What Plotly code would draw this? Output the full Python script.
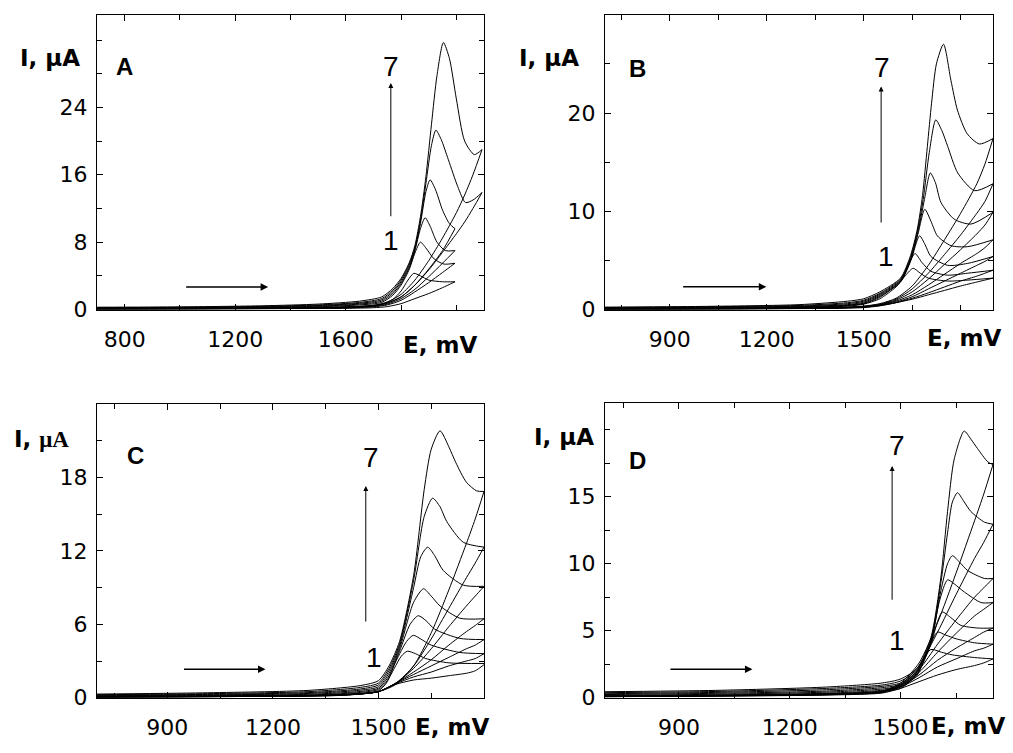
import plotly.graph_objects as go

# ---------------- Panel A (E, mV vs I, uA) ----------------
A_FWD_E = [
    [700, 1000, 1300, 1500, 1650, 1730, 1770, 1800, 1830, 1850, 1870, 1890, 1910, 1930, 1953, 1975, 2000, 2030, 2065, 2093],
    [700, 1000, 1300, 1500, 1650, 1730, 1770, 1800, 1830, 1850, 1870, 1890, 1910, 1926, 1945, 1971, 2005, 2033, 2060, 2093],
    [700, 1000, 1300, 1500, 1650, 1730, 1770, 1800, 1830, 1850, 1870, 1890, 1905, 1925, 1950, 1975, 1995],
    [700, 1000, 1300, 1500, 1650, 1730, 1770, 1800, 1830, 1850, 1870, 1887, 1905, 1930, 1960, 1995],
    [700, 1000, 1300, 1500, 1650, 1730, 1770, 1800, 1830, 1850, 1870, 1890, 1920, 1955, 1995],
    [700, 1000, 1300, 1500, 1650, 1730, 1770, 1800, 1825, 1846, 1870, 1900, 1950, 1995],
]
A_FWD_I = [
    [0.28, 0.32, 0.45, 0.65, 1.0, 1.5, 2.5, 3.7, 5.6, 7.6, 11.0, 15.8, 22.0, 27.8, 31.7, 29.8, 25.0, 20.0, 18.4, 19.0],
    [0.22, 0.27, 0.38, 0.55, 0.85, 1.3, 2.3, 3.5, 5.4, 7.3, 10.5, 15.0, 19.5, 21.3, 20.2, 17.8, 14.6, 12.7, 13.0, 13.9],
    [0.18, 0.22, 0.32, 0.48, 0.75, 1.15, 2.1, 3.3, 5.2, 7.1, 10.2, 14.0, 15.4, 14.2, 11.8, 10.2, 9.6],
    [0.14, 0.18, 0.27, 0.40, 0.65, 1.0, 1.9, 3.1, 5.0, 7.0, 9.6, 10.9, 9.9, 8.0, 7.0, 7.0],
    [0.10, 0.14, 0.22, 0.33, 0.55, 0.85, 1.7, 2.9, 4.8, 6.7, 8.0, 7.3, 6.0, 5.4, 5.5],
    [0.06, 0.10, 0.16, 0.25, 0.40, 0.65, 1.2, 2.2, 3.5, 4.3, 4.0, 3.5, 3.3, 3.3],
]
A_REV_E = [
    [2093, 2060, 2030, 2000, 1950, 1900, 1850, 1800, 1750, 1700, 1600, 1300, 1000, 700],
    [2093, 2060, 2030, 2000, 1950, 1900, 1850, 1800, 1750, 1700, 1600, 1300, 1000, 700],
    [1995, 1950, 1900, 1850, 1800, 1750, 1700, 1600, 1300, 1000, 700],
    [1995, 1950, 1900, 1850, 1800, 1750, 1700, 1600, 1300, 1000, 700],
    [1995, 1950, 1900, 1850, 1800, 1750, 1700, 1600, 1300, 1000, 700],
    [1995, 1950, 1900, 1850, 1800, 1750, 1700, 1600, 1300, 1000, 700],
]
A_REV_I = [
    [19.0, 16.0, 13.6, 11.5, 8.5, 5.8, 3.5, 1.8, 0.9, 0.5, 0.3, 0.15, 0.10, 0.08],
    [13.9, 12.0, 10.4, 9.0, 6.8, 4.7, 2.9, 1.5, 0.8, 0.45, 0.28, 0.14, 0.10, 0.08],
    [9.6, 7.0, 4.8, 2.9, 1.5, 0.75, 0.42, 0.25, 0.13, 0.09, 0.07],
    [7.0, 5.5, 3.9, 2.4, 1.3, 0.65, 0.38, 0.22, 0.12, 0.08, 0.06],
    [5.5, 4.4, 3.2, 2.1, 1.1, 0.55, 0.33, 0.20, 0.11, 0.07, 0.05],
    [3.3, 2.6, 1.9, 1.3, 0.7, 0.35, 0.22, 0.15, 0.09, 0.06, 0.05],
]

# ---------------- Panel B ----------------
B_FWD_E = [
    [700, 1000, 1300, 1450, 1500, 1550, 1614, 1645, 1666, 1682, 1697, 1710, 1725, 1747, 1770, 1790, 1820, 1858, 1900],
    [700, 1000, 1300, 1450, 1500, 1550, 1614, 1645, 1666, 1684, 1703, 1723, 1742, 1760, 1791, 1843, 1900],
    [700, 1000, 1300, 1450, 1500, 1550, 1614, 1645, 1666, 1688, 1706, 1722, 1739, 1780, 1832, 1900],
    [700, 1000, 1300, 1450, 1500, 1550, 1614, 1645, 1668, 1689, 1708, 1728, 1770, 1822, 1900],
    [700, 1000, 1300, 1450, 1500, 1550, 1614, 1645, 1673, 1690, 1708, 1760, 1822, 1900],
    [700, 1000, 1300, 1450, 1500, 1550, 1614, 1640, 1659, 1680, 1708, 1760, 1822, 1900],
    [700, 1000, 1300, 1450, 1500, 1550, 1600, 1630, 1653, 1675, 1700, 1760, 1822, 1900],
]
B_FWD_I = [
    [0.25, 0.32, 0.50, 0.85, 1.10, 1.80, 3.2, 5.5, 8.2, 11.6, 16.6, 21.0, 25.0, 27.0, 23.3, 20.3, 17.9, 16.85, 17.4],
    [0.20, 0.28, 0.42, 0.70, 0.95, 1.65, 3.1, 5.3, 7.9, 11.2, 16.0, 19.3, 18.2, 16.6, 13.9, 12.1, 12.8],
    [0.15, 0.22, 0.35, 0.60, 0.85, 1.55, 3.0, 5.1, 7.6, 11.2, 13.9, 12.9, 10.9, 9.2, 8.7, 9.9],
    [0.12, 0.18, 0.30, 0.50, 0.75, 1.45, 2.9, 5.0, 7.7, 10.2, 9.0, 7.5, 6.5, 6.4, 7.1],
    [0.10, 0.15, 0.25, 0.45, 0.65, 1.35, 2.8, 4.9, 7.5, 6.6, 5.4, 4.5, 4.7, 5.4],
    [0.08, 0.12, 0.20, 0.40, 0.60, 1.25, 2.9, 4.7, 5.7, 4.8, 3.9, 3.5, 3.7, 4.0],
    [0.06, 0.10, 0.18, 0.35, 0.55, 1.10, 2.3, 3.5, 4.2, 3.7, 3.2, 2.9, 3.0, 3.2],
]
B_REV_E = [1900, 1875, 1850, 1800, 1750, 1700, 1650, 1600, 1550, 1500, 1400, 1100, 700]
B_REV_I = [
    [17.4, 14.8, 12.8, 9.8, 7.1, 4.5, 2.4, 1.15, 0.60, 0.35, 0.20, 0.10, 0.06],
    [12.8, 11.0, 9.8, 7.6, 5.6, 3.7, 2.1, 1.05, 0.55, 0.32, 0.18, 0.09, 0.05],
    [9.9, 8.6, 7.7, 6.1, 4.6, 3.1, 1.8, 0.95, 0.50, 0.30, 0.17, 0.08, 0.05],
    [7.1, 6.3, 5.7, 4.7, 3.6, 2.5, 1.5, 0.85, 0.47, 0.28, 0.16, 0.08, 0.05],
    [5.4, 4.9, 4.5, 3.7, 2.9, 2.1, 1.3, 0.75, 0.43, 0.26, 0.15, 0.07, 0.04],
    [4.0, 3.7, 3.4, 2.9, 2.3, 1.7, 1.15, 0.70, 0.40, 0.24, 0.14, 0.07, 0.04],
    [3.2, 3.0, 2.8, 2.4, 1.95, 1.5, 1.05, 0.70, 0.38, 0.20, 0.12, 0.06, 0.04],
]

# ---------------- Panel C ----------------
C_FWD_E = [
    [700, 1000, 1300, 1450, 1500, 1530, 1560, 1600, 1630, 1650, 1675, 1700, 1720, 1750, 1779, 1800],
    [700, 1000, 1300, 1450, 1500, 1530, 1560, 1600, 1630, 1654, 1675, 1694, 1741, 1800],
    [700, 1000, 1300, 1450, 1500, 1530, 1560, 1600, 1620, 1640, 1660, 1684, 1741, 1800],
    [700, 1000, 1300, 1450, 1500, 1530, 1560, 1600, 1628, 1650, 1675, 1731, 1800],
    [700, 1000, 1300, 1450, 1500, 1530, 1560, 1590, 1613, 1635, 1660, 1731, 1800],
    [700, 1000, 1300, 1450, 1500, 1525, 1550, 1580, 1599, 1620, 1650, 1731, 1800],
    [700, 1000, 1300, 1450, 1500, 1520, 1545, 1565, 1582, 1605, 1635, 1700, 1800],
]
C_FWD_I = [
    [0.30, 0.40, 0.60, 1.00, 1.40, 2.6, 4.6, 10.0, 17.0, 20.3, 21.8, 20.5, 19.2, 17.6, 16.9, 16.85],
    [0.25, 0.33, 0.50, 0.85, 1.20, 2.4, 4.4, 9.6, 14.8, 16.3, 15.6, 14.4, 12.7, 12.3],
    [0.20, 0.27, 0.42, 0.72, 1.05, 2.2, 4.2, 9.0, 11.5, 12.3, 11.6, 10.4, 9.2, 9.1],
    [0.16, 0.22, 0.35, 0.62, 0.90, 2.0, 4.0, 7.8, 8.9, 8.3, 7.5, 6.5, 6.45],
    [0.12, 0.18, 0.28, 0.52, 0.78, 1.8, 3.8, 6.0, 6.7, 6.3, 5.6, 4.85, 4.75],
    [0.09, 0.14, 0.22, 0.44, 0.68, 1.4, 3.0, 4.6, 5.1, 4.8, 4.3, 3.7, 3.6],
    [0.06, 0.10, 0.17, 0.36, 0.58, 1.1, 2.4, 3.4, 3.8, 3.6, 3.2, 2.85, 2.8],
]
C_REV_E = [1800, 1775, 1750, 1700, 1650, 1600, 1550, 1500, 1400, 1100, 700]
C_REV_I = [
    [16.85, 14.6, 12.6, 8.8, 5.3, 2.6, 1.1, 0.5, 0.25, 0.12, 0.08],
    [12.3, 11.0, 9.8, 7.3, 4.8, 2.6, 1.2, 0.5, 0.25, 0.12, 0.08],
    [9.1, 8.3, 7.5, 5.8, 4.0, 2.4, 1.2, 0.5, 0.24, 0.11, 0.07],
    [6.45, 5.9, 5.4, 4.3, 3.1, 2.1, 1.2, 0.5, 0.23, 0.11, 0.07],
    [4.75, 4.3, 4.0, 3.3, 2.6, 1.9, 1.2, 0.5, 0.22, 0.10, 0.06],
    [3.6, 3.2, 3.0, 2.6, 2.1, 1.7, 1.15, 0.5, 0.21, 0.10, 0.06],
    [2.7, 2.2, 2.0, 1.8, 1.6, 1.45, 1.1, 0.5, 0.20, 0.10, 0.06],
]

# ---------------- Panel D ----------------
D_FWD_E = [
    [700, 1000, 1300, 1450, 1500, 1545, 1582, 1609, 1627, 1645, 1672, 1690, 1708, 1736, 1750],
    [700, 1000, 1300, 1450, 1500, 1545, 1582, 1609, 1627, 1640, 1654, 1670, 1690, 1727, 1750],
    [700, 1000, 1300, 1450, 1500, 1545, 1582, 1609, 1627, 1640, 1660, 1681, 1727, 1750],
    [700, 1000, 1300, 1450, 1500, 1545, 1582, 1605, 1627, 1645, 1672, 1718, 1750],
    [700, 1000, 1300, 1450, 1500, 1545, 1582, 1600, 1613, 1635, 1663, 1710, 1750],
    [700, 1000, 1300, 1450, 1500, 1545, 1575, 1600, 1620, 1650, 1700, 1750],
    [700, 1000, 1300, 1450, 1500, 1535, 1560, 1582, 1610, 1640, 1700, 1750],
]
D_FWD_I = [
    [0.45, 0.55, 0.80, 1.10, 1.40, 2.2, 4.5, 9.0, 13.9, 17.8, 19.9, 19.3, 18.6, 17.6, 17.4],
    [0.38, 0.47, 0.70, 0.95, 1.25, 2.1, 4.3, 8.6, 12.3, 14.6, 15.3, 14.7, 13.9, 13.1, 12.95],
    [0.30, 0.40, 0.60, 0.85, 1.10, 2.0, 4.2, 8.0, 10.0, 10.6, 10.1, 9.5, 8.9, 8.9],
    [0.24, 0.33, 0.50, 0.75, 1.00, 1.9, 4.1, 7.2, 8.8, 8.5, 7.9, 7.1, 7.1],
    [0.18, 0.26, 0.42, 0.65, 0.90, 1.8, 4.0, 5.7, 6.4, 6.0, 5.4, 5.2, 5.2],
    [0.12, 0.20, 0.34, 0.56, 0.80, 1.7, 3.7, 4.9, 4.7, 4.4, 4.1, 4.0],
    [0.08, 0.15, 0.27, 0.48, 0.70, 1.5, 2.8, 3.6, 3.4, 3.2, 3.0, 2.9],
]
D_REV_E = [1750, 1725, 1700, 1650, 1600, 1550, 1500, 1450, 1300, 1000, 700]
D_REV_I = [
    [17.4, 15.2, 13.2, 9.3, 5.6, 2.6, 1.1, 0.50, 0.30, 0.18, 0.12],
    [12.95, 11.6, 10.4, 7.7, 4.9, 2.4, 1.0, 0.50, 0.28, 0.17, 0.11],
    [8.9, 8.2, 7.5, 5.8, 4.0, 2.1, 0.95, 0.45, 0.26, 0.16, 0.10],
    [7.1, 6.6, 6.1, 4.8, 3.4, 1.9, 0.90, 0.45, 0.25, 0.15, 0.10],
    [5.2, 4.9, 4.5, 3.7, 2.8, 1.7, 0.85, 0.40, 0.23, 0.14, 0.09],
    [4.0, 3.7, 3.5, 2.9, 2.3, 1.5, 0.80, 0.40, 0.22, 0.13, 0.08],
    [2.9, 2.6, 2.4, 2.1, 1.7, 1.2, 0.70, 0.35, 0.20, 0.12, 0.08],
]

# axis ranges / ticks
X_RANGES = [[700, 2100], [700, 1900], [700, 1800], [700, 1750]]
Y_RANGES = [[0, 35], [0, 30], [0, 24], [0, 22]]
X_TICKS = [[800, 1200, 1600], [900, 1200, 1500], [900, 1200, 1500], [900, 1200, 1500]]
Y_TICKS = [[0, 8, 16, 24], [0, 10, 20], [0, 6, 12, 18], [0, 5, 10, 15]]
X_MINOR = [(800, 200), (750, 150), (750, 150), (750, 150)]
Y_MINOR = [(0, 4), (0, 5), (0, 3), (0, 2.5)]
PANEL_LETTERS = ["A", "B", "C", "D"]

fig = go.Figure()

panels = [
    (A_FWD_E, A_FWD_I, A_REV_E, A_REV_I),
    (B_FWD_E, B_FWD_I, [B_REV_E] * len(B_REV_I), B_REV_I),
    (C_FWD_E, C_FWD_I, [C_REV_E] * len(C_REV_I), C_REV_I),
    (D_FWD_E, D_FWD_I, [D_REV_E] * len(D_REV_I), D_REV_I),
]
line = dict(color="black", width=1, shape="spline", smoothing=0.7)
for p, (fe, fi, re_, ri) in enumerate(panels):
    xa = "x" if p == 0 else f"x{p+1}"
    ya = "y" if p == 0 else f"y{p+1}"
    for e, i in zip(fe, fi):
        fig.add_trace(go.Scatter(x=e, y=i, mode="lines", line=line, xaxis=xa, yaxis=ya,
                                 showlegend=False, hoverinfo="skip"))
    for e, i in zip(re_, ri):
        fig.add_trace(go.Scatter(x=e, y=i, mode="lines", line=line, xaxis=xa, yaxis=ya,
                                 showlegend=False, hoverinfo="skip"))

W, H = 1013, 753
# pixel boxes of the plot areas (left, top, right, bottom)
boxes = [(97, 15, 484, 315), (605, 15, 993, 315), (97, 411, 484, 710), (605, 410, 993, 710)]
TICKFONT = "DejaVu Sans, Liberation Sans, sans-serif"
BOLDFONT = "DejaVu Sans, Liberation Sans, sans-serif"
NUMFONT = "Liberation Sans, Arial, sans-serif"
layout = dict(width=W, height=H, margin=dict(l=0, r=0, t=0, b=0),
              paper_bgcolor="white", plot_bgcolor="white", showlegend=False)
for p, (l, t, r, b) in enumerate(boxes):
    xk = "xaxis" if p == 0 else f"xaxis{p+1}"
    yk = "yaxis" if p == 0 else f"yaxis{p+1}"
    xa = "x" if p == 0 else f"x{p+1}"
    ya = "y" if p == 0 else f"y{p+1}"
    common = dict(showgrid=False, zeroline=False, showline=True, linecolor="black", linewidth=1,
                  mirror="allticks", ticks="inside", ticklen=6, tickcolor="black", tickwidth=1,
                  tickfont=dict(family=TICKFONT, size=22, color="black"))
    layout[xk] = dict(domain=[l / W, r / W], anchor=ya, range=X_RANGES[p],
                      tickvals=X_TICKS[p], ticktext=[str(v) for v in X_TICKS[p]],
                      ticklabelstandoff=10,
                      minor=dict(ticks="inside", ticklen=5, tick0=X_MINOR[p][0], dtick=X_MINOR[p][1],
                                 tickcolor="black", showgrid=False),
                      **common)
    layout[yk] = dict(domain=[1 - b / H, 1 - t / H], anchor=xa, range=Y_RANGES[p],
                      tickvals=Y_TICKS[p], ticktext=[str(v) for v in Y_TICKS[p]],
                      ticklabelstandoff=4,
                      minor=dict(ticks="inside", ticklen=5, tick0=Y_MINOR[p][0], dtick=Y_MINOR[p][1],
                                 tickcolor="black", showgrid=False),
                      **common)
fig.update_layout(**layout)

ann = []
def paper_text(txt, x, y, size, family=BOLDFONT):
    ann.append(dict(text=f"<b>{txt}</b>", x=x / W, y=1 - y / H, xref="paper", yref="paper",
                    showarrow=False, xanchor="center", yanchor="middle",
                    font=dict(family=family, size=size, color="black")))

# panel letters
for (px, py), L in zip([(124, 68), (637, 70), (135, 463), (637, 469)], PANEL_LETTERS):
    paper_text(L, px, py, 24, family="Liberation Sans, Arial, sans-serif")
# y titles
paper_text("I, μA", 50, 59, 23)
paper_text("I, μA", 549, 59, 23)
ann.append(dict(text="<b>I, </b><span style='font-family:Liberation Serif'><b>μA</b></span>",
                x=41 / W, y=1 - 447 / H, xref="paper", yref="paper", showarrow=False,
                xanchor="center", yanchor="middle",
                font=dict(family=BOLDFONT, size=23, color="black")))
paper_text("I, μA", 564, 445, 23)
# x titles
paper_text("E, mV", 440, 351, 23)
paper_text("E, mV", 964, 344, 23)
paper_text("E, mV", 452, 740, 23)
paper_text("E, mV", 968, 739, 23)

# arrows & numbers in data coordinates
VERT = [(1763, 10.9, 26.9), (1554, 8.7, 22.7), (1464, 6.1, 17.3), (1477, 7.2, 17.3)]
SEVEN = [(1765, 28.9), (1557, 24.6), (1478, 19.6), (1491, 18.8)]
ONE = [(1765, 8.2), (1570, 5.4), (1486, 3.3), (1489, 4.3)]
HORIZ = [(1017, 1319, 2.69), (937, 1199, 2.31), (943, 1179, 2.32), (873, 1099, 2.13)]
for p in range(4):
    xa = "x" if p == 0 else f"x{p+1}"
    ya = "y" if p == 0 else f"y{p+1}"
    vx, vy0, vy1 = VERT[p]
    ann.append(dict(x=vx, y=vy1, ax=vx, ay=vy0, xref=xa, yref=ya, axref=xa, ayref=ya, text="",
                    showarrow=True, arrowhead=2, arrowsize=1, arrowwidth=1, arrowcolor="black"))
    hx0, hx1, hy = HORIZ[p]
    ann.append(dict(x=hx1, y=hy, ax=hx0, ay=hy, xref=xa, yref=ya, axref=xa, ayref=ya, text="",
                    showarrow=True, arrowhead=2, arrowsize=1, arrowwidth=1.5, arrowcolor="black"))
    ann.append(dict(x=SEVEN[p][0], y=SEVEN[p][1], xref=xa, yref=ya, text="7", showarrow=False,
                    font=dict(family=NUMFONT, size=28, color="black")))
    ann.append(dict(x=ONE[p][0], y=ONE[p][1], xref=xa, yref=ya, text="1", showarrow=False,
                    font=dict(family=NUMFONT, size=28, color="black")))

fig.update_layout(annotations=ann)
fig.write_html("out.html")
